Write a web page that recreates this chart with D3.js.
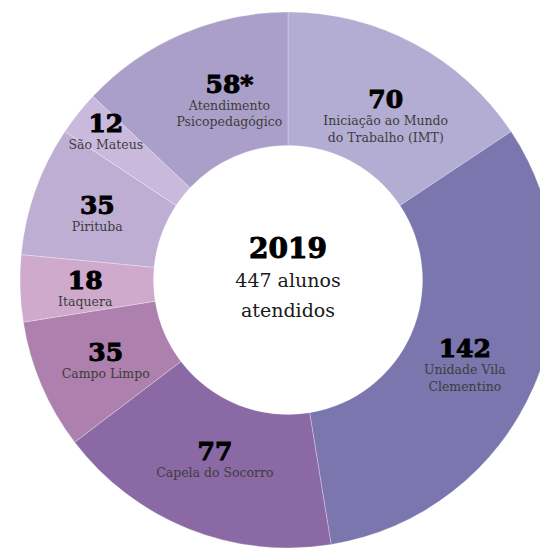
<!DOCTYPE html>
<html>
<head>
<meta charset="utf-8">
<script src="https://cdn.jsdelivr.net/npm/d3@7"></script>
<style>
  body { margin: 0; background: #fff; }
  svg { display: block; }
</style>
</head>
<body>
<svg id="chart" width="540" height="550"></svg>
<script>
// units, clockwise from the top
const units = [
    ["Iniciação ao Mundo", "do Trabalho (IMT)"],
    ["Unidade Vila", "Clementino"],
    ["Capela do Socorro"],
    ["Campo Limpo"],
    ["Itaquera"],
    ["Pirituba"],
    ["São Mateus"],
    ["Atendimento", "Psicopedagógico"]
];
const students = [70, 142, 77, 35, 18, 35, 12, 58];
const marks = ["", "", "", "", "", "", "", "*"];
const colors = ["#b3acd3", "#7b76ae", "#8a69a5", "#ae80ad", "#cfaacc", "#bfaed3", "#c9badd", "#aa9fc8"];

const centerTitle = "2019";
const centerLines = ["447 alunos", "atendidos"];

const svg = d3.select("#chart");
const cx = 288, cy = 280;
const outerR = 268, innerR = 134.5;

const data = students.map((v, i) => ({ lines: units[i], value: v, mark: marks[i], color: colors[i] }));

const pie = d3.pie().sort(null).value(d => d.value);
const arc = d3.arc().innerRadius(innerR).outerRadius(outerR);

const g = svg.append("g").attr("transform", `translate(${cx},${cy})`);

g.selectAll("path")
    .data(pie(data))
    .enter().append("path")
    .attr("d", arc)
    .attr("fill", d => d.data.color)
    .attr("stroke", "rgba(255,255,255,0.35)")
    .attr("stroke-width", 0.8);

// label placement: radius + small angle shift (degrees) from the slice's mid angle
const labelPos = [
    { r: 191, a: 2.6 },
    { r: 196, a: 2 },
    { r: 194, a: 0.4 },
    { r: 199, a: -0.5 },
    { r: 203, a: -0.6 },
    { r: 202, a: -0.3 },
    { r: 235, a: 0.7 },
    { r: 189, a: 5.3 }
];

const labels = g.selectAll("g.label")
    .data(pie(data))
    .enter().append("g")
    .attr("class", "label")
    .attr("transform", d => {
        const p = labelPos[d.index];
        const a = (d.startAngle + d.endAngle) / 2 + p.a * Math.PI / 180;
        const la = d3.arc().innerRadius(p.r).outerRadius(p.r);
        const [x, y] = la.centroid({ startAngle: a, endAngle: a });
        const h = 18 + 16.5 * d.data.lines.length;
        return `translate(${x},${y - h / 2})`;
    });

labels.append("text")
    .attr("text-anchor", "middle")
    .attr("y", 18)
    .attr("font-family", "DejaVu Serif")
    .attr("font-weight", "bold")
    .attr("font-size", 25)
    .attr("fill", "#000")
    .attr("stroke", "#000")
    .attr("stroke-width", 1)
    .text(d => d.data.value + d.data.mark);

labels.each(function (d) {
    d3.select(this).selectAll("text.name")
        .data(d.data.lines)
        .enter().append("text")
        .attr("class", "name")
        .attr("text-anchor", "middle")
        .attr("y", (t, i) => 35 + i * 16.5)
        .attr("font-family", "DejaVu Serif")
        .attr("font-size", 12.5)
        .attr("fill", "#3d3d3d")
        .text(t => t);
});

// centre text
g.append("text")
    .attr("text-anchor", "middle")
    .attr("y", -22)
    .attr("font-family", "DejaVu Serif")
    .attr("font-weight", "bold")
    .attr("font-size", 28)
    .attr("fill", "#000")
    .attr("stroke", "#000")
    .attr("stroke-width", 1)
    .text(centerTitle);

g.selectAll("text.center")
    .data(centerLines)
    .enter().append("text")
    .attr("class", "center")
    .attr("text-anchor", "middle")
    .attr("y", (t, i) => 7 + i * 30)
    .attr("font-family", "DejaVu Serif")
    .attr("font-size", 19)
    .attr("fill", "#1a1a1a")
    .text(t => t);
</script>
</body>
</html>
